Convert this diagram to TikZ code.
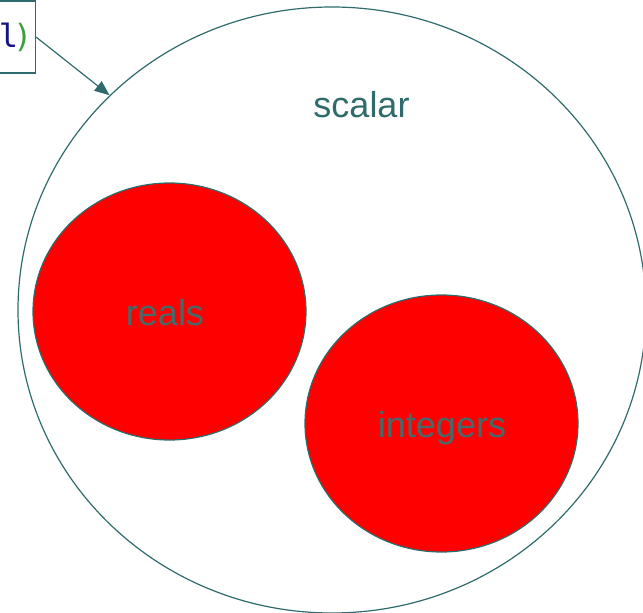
\documentclass[tikz,border=0pt]{standalone}
\usepackage{fontspec}
\setmainfont{Liberation Sans}
\newfontfamily\codefont{DejaVu Sans Mono}
\usetikzlibrary{shapes.geometric,arrows.meta}
\definecolor{teal}{RGB}{47,107,107}
\definecolor{labelgrey}{RGB}{70,105,105}
\definecolor{codenavy}{RGB}{20,20,130}
\definecolor{codegreen}{RGB}{60,160,60}
\begin{document}
\begin{tikzpicture}[x=1pt,y=-1pt,
  setshape/.style={ellipse,draw=teal,line width=1.2pt,inner sep=0pt},
  subset/.style={setshape,fill=red,minimum width=273pt,minimum height=257pt},
  lbl/.style={font=\fontsize{36}{42}\selectfont,anchor=base,inner sep=0pt},
  codebox/.style={draw=teal,line width=1.2pt,fill=white,minimum height=72pt,text width=190pt,align=right,inner xsep=3pt,anchor=east,font=\codefont\fontsize{32}{38}\selectfont}
]
\useasboundingbox (0,0) rectangle (643,613);
\clip (0,0) rectangle (643,613);
\node[setshape,minimum width=628pt,minimum height=606pt] (big) at (332,310) {};
\node[subset] (reals) at (169.5,311.5) {};
\node[subset] (ints) at (441.5,423.5) {};
\node[lbl,text=teal] (scalarlbl) at (361.5,117) {scalar};
\node[lbl,text=labelgrey] (realslbl) at (165,325) {reals};
\node[lbl,text=labelgrey] (intslbl) at (442,437) {integers};
\node[codebox] (code) at (36,37) {\textcolor{codenavy}{l}\kern-5pt\textcolor{codegreen}{)}};
\coordinate (hit) at (big.136.2);
\draw[teal,line width=1.2pt,-{Triangle[length=15pt,width=12pt]}] (code.east) -- (hit);
\end{tikzpicture}
\end{document}
